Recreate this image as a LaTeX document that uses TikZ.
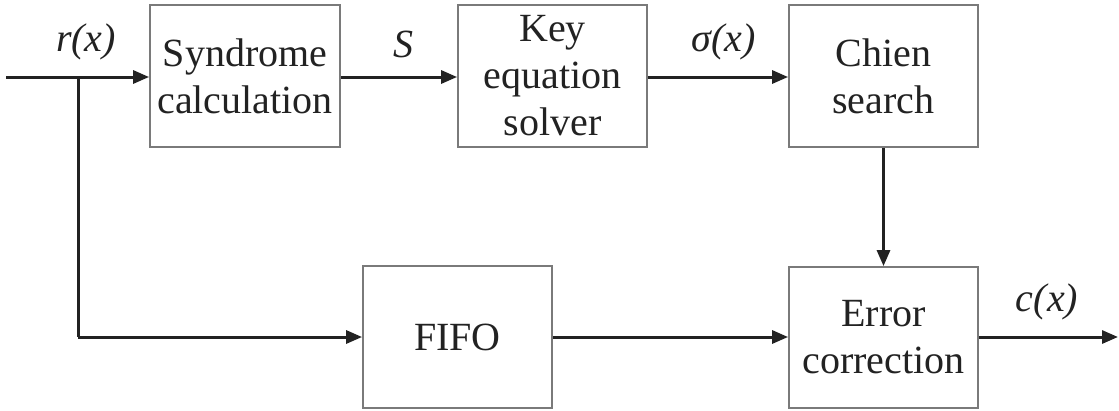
\documentclass[tikz,border=0pt]{standalone}
\usepackage{fontspec}
\setmainfont{Liberation Serif}
\usetikzlibrary{arrows.meta}
\definecolor{boxline}{HTML}{7A7A7A}
\definecolor{ink}{HTML}{222222}
\tikzset{
  block/.style={draw=boxline, line width=1.8pt, minimum width=189pt, minimum height=142pt,
    inner sep=0pt, align=center, text=ink, font=\fontsize{40}{47}\selectfont},
  flow/.style={line width=3pt, draw=ink, -{Triangle[length=16pt,width=13pt]}},
  wire/.style={line width=3pt, draw=ink},
  sig/.style={text=ink, font=\fontsize{40}{47}\selectfont\itshape, inner sep=0pt}
}
\begin{document}
\begin{tikzpicture}[x=1pt,y=-1pt]
\useasboundingbox (0,0) rectangle (1119,410);
\fill[white] (0,0) rectangle (1119,410);
\node[block, minimum width=190pt] (syn) at (245,76) {Syndrome\\calculation};
\node[block] (key) at (552.5,76) {Key\\equation\\solver};
\node[block] (chien) at (883.5,76) {Chien\\search};
\node[block] (fifo) at (457.5,337) {FIFO};
\node[block, minimum height=141pt] (err) at (883.5,337.5) {Error\\correction};
\coordinate (in) at (6,77);
\coordinate (br) at (78,77);
\coordinate (out) at (1118,337);
\node[sig] (lr) at (86,42) {r(x)};
\node[sig] (ls) at (403,44) {S};
\node[sig] (lsig) at (724,42) {σ(x)};
\node[sig] (lc) at (1047,302) {c(x)};
\draw[flow] (in) -- (syn.west |- in);
\draw[wire] (br) -- (br |- fifo.west);
\draw[flow] (br |- fifo.west) -- (fifo.west);
\draw[flow] (syn.east |- 0,77) -- (key.west |- 0,77);
\draw[flow] (key.east |- 0,77) -- (chien.west |- 0,77);
\draw[flow] (chien.south) -- (err.north);
\draw[flow] (fifo.east) -- (err.west |- fifo.east);
\draw[flow] (err.east |- out) -- (out);
\end{tikzpicture}
\end{document}
